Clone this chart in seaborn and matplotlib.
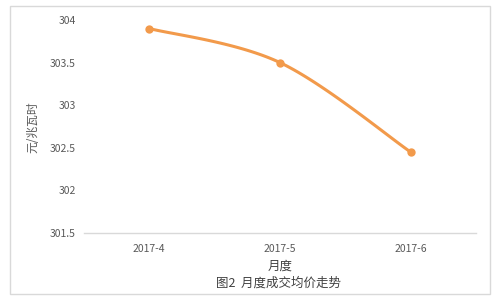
import numpy as np
import pandas as pd
import seaborn as sns
import matplotlib
matplotlib.use("Agg")
import matplotlib.pyplot as plt
from matplotlib.patches import Rectangle

# Monthly average transaction price (元/兆瓦时)
months = ["2017-4", "2017-5", "2017-6"]
prices = [303.9, 303.5, 302.45]
y_ticks = [301.5, 302, 302.5, 303, 303.5, 304]

sns.set_theme(style="white")
plt.rcParams["font.family"] = ["Noto Sans CJK SC", "DejaVu Sans"]

LINE = "#F29A4B"
TICK = "#595959"
EDGE = "#D9D9D9"

df = pd.DataFrame({"month": months, "price": prices, "pos": np.arange(len(months))})

fig = plt.figure(figsize=(5.0, 3.03), dpi=100)
fig.patch.set_facecolor("white")
fig.patches.append(Rectangle((10 / 500, 1 - 294 / 303), 480 / 500, 288 / 303,
                             transform=fig.transFigure, fill=False,
                             edgecolor=EDGE, linewidth=1.0))

ax = fig.add_axes([84 / 500, 1 - 233 / 303, 392 / 500, 213 / 303])


def smooth(xs, ys, n=40):
    """Catmull-Rom curve through the points (ends duplicated)."""
    px = np.concatenate([[xs[0]], xs, [xs[-1]]])
    py = np.concatenate([[ys[0]], ys, [ys[-1]]])
    out_x, out_y = [], []
    t = np.linspace(0, 1, n)
    for i in range(1, len(px) - 2):
        for p, out in ((px, out_x), (py, out_y)):
            p0, p1, p2, p3 = p[i - 1], p[i], p[i + 1], p[i + 2]
            out.extend(0.5 * ((2 * p1) + (-p0 + p2) * t
                              + (2 * p0 - 5 * p1 + 4 * p2 - p3) * t ** 2
                              + (-p0 + 3 * p1 - 3 * p2 + p3) * t ** 3))
    return np.array(out_x), np.array(out_y)


sx, sy = smooth(df["pos"].to_numpy(float), df["price"].to_numpy(float))
ax.plot(sx, sy, color=LINE, linewidth=2.2, solid_capstyle="round", zorder=2)
sns.scatterplot(data=df, x="pos", y="price", ax=ax, color=LINE, s=36,
                edgecolor=LINE, linewidth=0, zorder=3, legend=False)

ax.set_xlim(-0.5, len(months) - 0.5)
ax.set_ylim(301.5, 304)
ax.set_xticks(df["pos"])
ax.set_xticklabels(months)
ax.set_yticks(y_ticks)
ax.set_yticklabels([f"{v:g}" for v in y_ticks])

for side in ("top", "right", "left"):
    ax.spines[side].set_visible(False)
ax.spines["bottom"].set_color(EDGE)
ax.spines["bottom"].set_linewidth(1.0)
ax.tick_params(axis="both", length=0, labelsize=7.5, colors=TICK)
ax.tick_params(axis="x", pad=8)
ax.tick_params(axis="y", pad=6)
ax.set_xlabel("")
ax.set_ylabel("")

fig.text(33 / 500, 1 - 127 / 303, "元/兆瓦时", rotation=90, ha="center",
         va="center", fontsize=8.5, color=TICK)
fig.text(280 / 500, 1 - 266 / 303, "月度", ha="center", va="center",
         fontsize=9, color="#404040")
fig.text(279 / 500, 1 - 283 / 303, "图2  月度成交均价走势", ha="center",
         va="center", fontsize=9, color="#404040")

fig.savefig("out.png", dpi=100, facecolor="white")
